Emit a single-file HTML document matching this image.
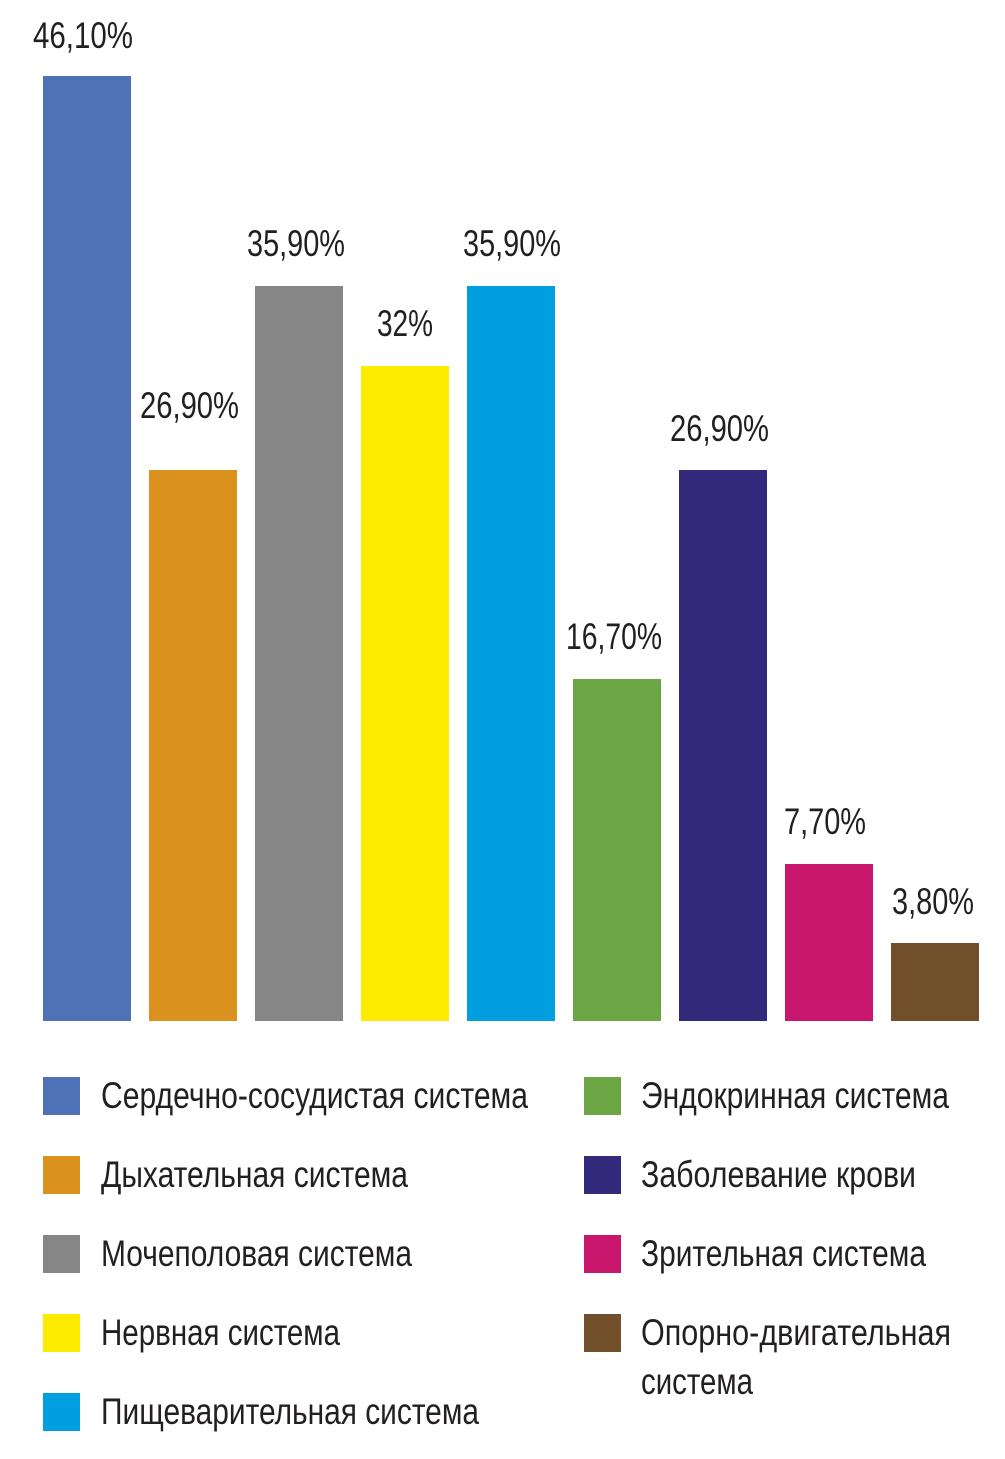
<!DOCTYPE html>
<html><head><meta charset="utf-8"><style>html,body{margin:0;padding:0;background:#fff}svg{display:block}</style></head>
<body>
<svg width="1005" height="1459" viewBox="0 0 1005 1459" xmlns="http://www.w3.org/2000/svg" font-family="'Liberation Sans Narrow','Liberation Sans',sans-serif" font-size="37" fill="#231f20">
<rect x="43" y="76" width="88" height="945" fill="#4f72b6"/>
<rect x="149" y="470" width="88" height="551" fill="#db911d"/>
<rect x="255" y="286" width="88" height="735" fill="#878686"/>
<rect x="361" y="366" width="88" height="655" fill="#feec00"/>
<rect x="467" y="286" width="88" height="735" fill="#019fe0"/>
<rect x="573" y="679" width="88" height="342" fill="#6ca543"/>
<rect x="679" y="470" width="88" height="551" fill="#332a7c"/>
<rect x="785" y="864" width="88" height="157" fill="#c8176d"/>
<rect x="891" y="943" width="88" height="78" fill="#714f2b"/>
<g lengthAdjust="spacingAndGlyphs">
<text x="33" y="48" textLength="100" lengthAdjust="spacingAndGlyphs">46,10%</text>
<text x="140" y="418" textLength="99" lengthAdjust="spacingAndGlyphs">26,90%</text>
<text x="247" y="256" textLength="98" lengthAdjust="spacingAndGlyphs">35,90%</text>
<text x="377" y="336" textLength="56" lengthAdjust="spacingAndGlyphs">32%</text>
<text x="463" y="256" textLength="98" lengthAdjust="spacingAndGlyphs">35,90%</text>
<text x="566" y="649" textLength="96" lengthAdjust="spacingAndGlyphs">16,70%</text>
<text x="670" y="441" textLength="99" lengthAdjust="spacingAndGlyphs">26,90%</text>
<text x="784" y="834" textLength="82" lengthAdjust="spacingAndGlyphs">7,70%</text>
<text x="892" y="914" textLength="82" lengthAdjust="spacingAndGlyphs">3,80%</text>
</g>
<rect x="43" y="1077" width="37" height="38" fill="#4f72b6"/>
<rect x="43" y="1156" width="37" height="38" fill="#db911d"/>
<rect x="43" y="1235" width="37" height="38" fill="#878686"/>
<rect x="43" y="1314" width="37" height="38" fill="#feec00"/>
<rect x="43" y="1393" width="37" height="38" fill="#019fe0"/>
<rect x="584" y="1077" width="37" height="38" fill="#6ca543"/>
<rect x="584" y="1156" width="37" height="38" fill="#332a7c"/>
<rect x="584" y="1235" width="37" height="38" fill="#c8176d"/>
<rect x="584" y="1314" width="37" height="38" fill="#714f2b"/>
<text x="101" y="1108" textLength="427" lengthAdjust="spacingAndGlyphs">Сердечно-сосудистая система</text>
<text x="101" y="1187" textLength="307" lengthAdjust="spacingAndGlyphs">Дыхательная система</text>
<text x="101" y="1266" textLength="311" lengthAdjust="spacingAndGlyphs">Мочеполовая система</text>
<text x="101" y="1345" textLength="239" lengthAdjust="spacingAndGlyphs">Нервная система</text>
<text x="101" y="1424" textLength="378" lengthAdjust="spacingAndGlyphs">Пищеварительная система</text>
<text x="641" y="1108" textLength="308" lengthAdjust="spacingAndGlyphs">Эндокринная система</text>
<text x="641" y="1187" textLength="275" lengthAdjust="spacingAndGlyphs">Заболевание крови</text>
<text x="641" y="1266" textLength="285" lengthAdjust="spacingAndGlyphs">Зрительная система</text>
<text x="641" y="1345" textLength="310" lengthAdjust="spacingAndGlyphs">Опорно-двигательная</text>
<text x="641" y="1394" textLength="112" lengthAdjust="spacingAndGlyphs">система</text>
</svg>
</body></html>
